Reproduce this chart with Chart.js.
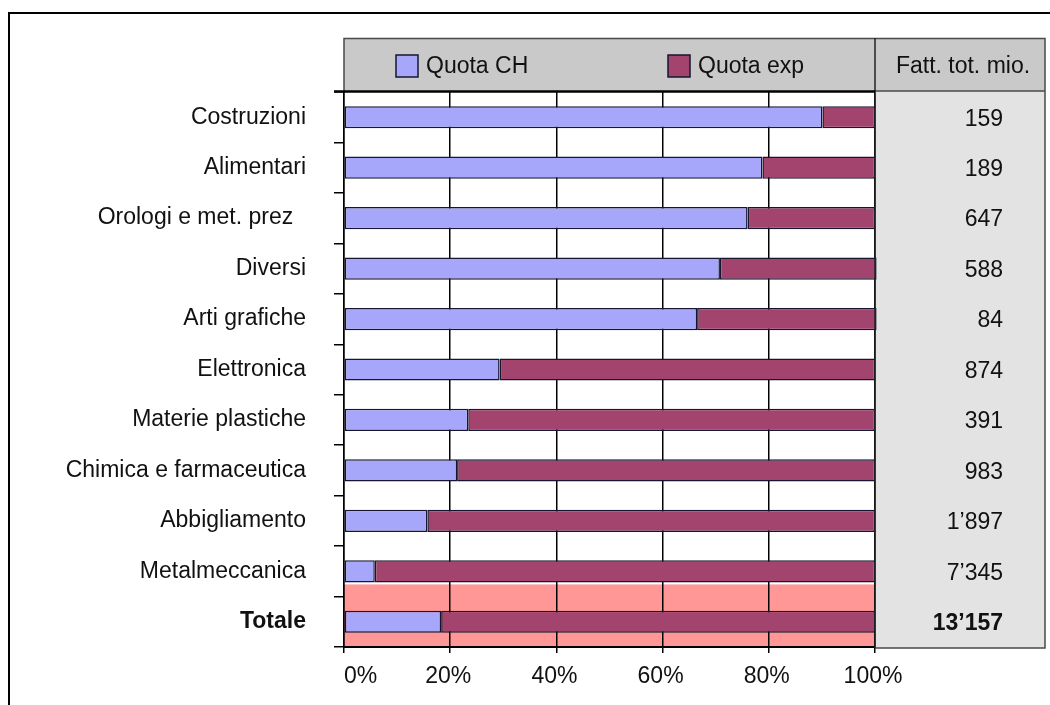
<!DOCTYPE html>
<html>
<head>
<meta charset="utf-8">
<script src="https://cdn.jsdelivr.net/npm/chart.js@4"></script>
<style>
  html, body { margin: 0; padding: 0; background: #ffffff; }
  #wrap { width: 1050px; height: 705px; }
</style>
</head>
<body>
<div id="wrap"><canvas id="c" width="1050" height="705"></canvas></div>
<script>
const categories = ['Costruzioni', 'Alimentari', 'Orologi e met. prez  ', 'Diversi', 'Arti grafiche',
  'Elettronica', 'Materie plastiche', 'Chimica e farmaceutica', 'Abbigliamento', 'Metalmeccanica', 'Totale'];
const quotaCH  = [90.1, 78.8, 76.0, 70.8, 66.5, 29.3, 23.4, 21.3, 15.7, 5.8, 18.3];
const quotaExp = [9.9, 21.2, 24.0, 29.5, 33.8, 70.7, 76.6, 78.7, 84.3, 94.2, 81.7];
const fattTot  = ['159', '189', '647', '588', '84', '874', '391', '983', '1\u2019897', '7\u2019345', '13\u2019157'];
const seriesLabels = ['Quota CH', 'Quota exp'];
const columnTitle = 'Fatt. tot. mio.';
const xTickValues = [0, 20, 40, 60, 80, 100];
const xTickLabels = ['0%', '20%', '40%', '60%', '80%', '100%'];

const FONT = '"Liberation Sans", Arial, sans-serif';
const COL_CH = '#a6a6fb';
const COL_EXP = '#a3446f';
const BAR_BORDER = '#161630';

const decor = {
  id: 'decor',
  beforeDraw(chart) {
    const ctx = chart.ctx, a = chart.chartArea;
    ctx.save();
    ctx.fillStyle = '#ffffff';
    ctx.fillRect(0, 0, chart.width, chart.height);
    // header box
    ctx.fillStyle = '#c9c9c9';
    ctx.fillRect(a.left, 38, 1045 - a.left, a.top - 38);
    // right column
    ctx.fillStyle = '#e3e3e3';
    ctx.fillRect(a.right, a.top - 1, 1045 - a.right, a.bottom + 1 - a.top + 1);
    // pink band behind the total row
    const el = chart.getDatasetMeta(0).data[categories.length - 2];
    const top = el.y + el.height / 2 + 2;
    ctx.fillStyle = '#ff9797';
    ctx.fillRect(a.left, top, a.right - a.left, a.bottom - top);
    ctx.restore();
  },
  afterDraw(chart) {
    const ctx = chart.ctx, a = chart.chartArea;
    const y = chart.scales.y, x = chart.scales.x;
    ctx.save();
    // header border + right column border
    ctx.strokeStyle = '#4a4a4a';
    ctx.lineWidth = 1.5;
    ctx.beginPath();
    ctx.moveTo(a.left, a.top); ctx.lineTo(a.left, 38.5); ctx.lineTo(1045, 38.5);
    ctx.lineTo(1045, a.bottom + 1); ctx.lineTo(a.right, a.bottom + 1);
    ctx.stroke();
    ctx.beginPath();
    ctx.moveTo(a.right, a.top - 1); ctx.lineTo(1045, a.top - 1);
    ctx.stroke();
    // divider
    ctx.strokeStyle = '#222';
    ctx.beginPath();
    ctx.moveTo(a.right, 38); ctx.lineTo(a.right, a.bottom + 1);
    ctx.stroke();
    // thick line under header over the plot
    ctx.strokeStyle = '#000';
    ctx.lineWidth = 2.5;
    ctx.beginPath();
    ctx.moveTo(a.left - 10, a.top - 0.5); ctx.lineTo(a.right, a.top - 0.5);
    ctx.stroke();

    // legend inside the header
    const legendX = [396, 668];
    const cols = [COL_CH, COL_EXP];
    ctx.font = '23px ' + FONT;
    ctx.textBaseline = 'middle';
    ctx.textAlign = 'left';
    for (let i = 0; i < seriesLabels.length; i++) {
      ctx.fillStyle = cols[i];
      ctx.fillRect(legendX[i], 55, 22, 22);
      ctx.strokeStyle = BAR_BORDER;
      ctx.lineWidth = 1.5;
      ctx.strokeRect(legendX[i], 55, 22, 22);
      ctx.fillStyle = '#111';
      ctx.fillText(seriesLabels[i], legendX[i] + 30, 67);
    }
    // column title
    ctx.textAlign = 'center';
    ctx.fillText(columnTitle, 963, 67);

    // totals column
    ctx.textAlign = 'right';
    for (let i = 0; i < fattTot.length; i++) {
      ctx.font = (i === fattTot.length - 1 ? 'bold ' : '') + '23px ' + FONT;
      ctx.fillText(fattTot[i], 1003, y.getPixelForValue(i) + 2);
    }

    // x tick labels
    ctx.font = '23px ' + FONT;
    for (let i = 0; i < xTickValues.length; i++) {
      const px = x.getPixelForValue(xTickValues[i]);
      ctx.textAlign = i === 0 ? 'left' : 'center';
      ctx.fillText(xTickLabels[i], i === 0 ? px : px - 2, a.bottom + 30);
    }

    // outer frame
    ctx.strokeStyle = '#000';
    ctx.lineWidth = 2;
    ctx.strokeRect(9, 13, 1200, 900);
    ctx.restore();
  }
};

new Chart(document.getElementById('c'), {
  type: 'bar',
  data: {
    labels: categories,
    datasets: [
      { label: seriesLabels[0], data: quotaCH, backgroundColor: COL_CH },
      { label: seriesLabels[1], data: quotaExp, backgroundColor: COL_EXP }
    ]
  },
  options: {
    indexAxis: 'y',
    responsive: false,
    devicePixelRatio: 1,
    animation: false,
    layout: { padding: { top: 92, right: 175, bottom: 0, left: 0 } },
    datasets: {
      bar: {
        categoryPercentage: 1,
        barPercentage: 0.44,
        borderColor: BAR_BORDER,
        borderWidth: 1.5,
        borderSkipped: false,
        clip: false
      }
    },
    plugins: { legend: { display: false }, tooltip: { enabled: false } },
    scales: {
      x: {
        type: 'linear',
        stacked: true,
        min: 0,
        max: 100,
        ticks: { display: false, stepSize: 20 },
        grid: { color: '#000', lineWidth: 1.5, drawTicks: true, tickLength: 6 },
        border: { display: true, color: '#000', width: 2 },
        afterFit(scale) { scale.height = 58; }
      },
      y: {
        type: 'category',
        stacked: true,
        grid: { offset: true, drawOnChartArea: false, drawTicks: true, tickLength: 10, color: '#000', lineWidth: 1.5 },
        border: { display: true, color: '#000', width: 1.5 },
        ticks: {
          color: '#111',
          padding: 28,
          autoSkip: false,
          font: (c) => ({ family: FONT, size: 23, weight: c.index === categories.length - 1 ? 'bold' : 'normal' })
        },
        afterFit(scale) { scale.width = 344; }
      }
    }
  },
  plugins: [decor]
});
</script>
</body>
</html>
